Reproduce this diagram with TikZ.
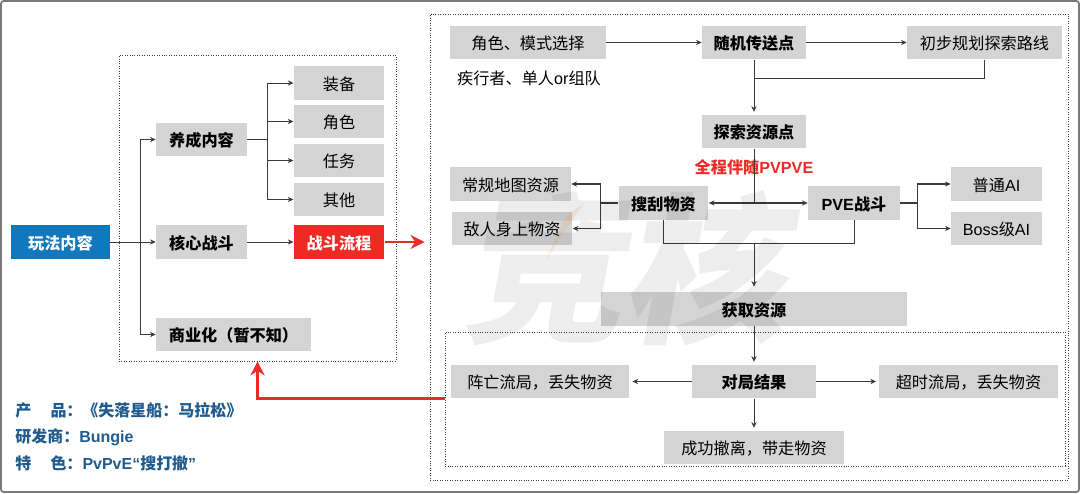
\documentclass[tikz,border=0pt]{standalone}
\usepackage{fontspec}
\setmainfont{Noto Sans CJK SC}
\newfontfamily\latin{Liberation Sans}
\usetikzlibrary{arrows.meta,positioning,calc}
\definecolor{boxgray}{HTML}{D4D4D4}
\definecolor{playblue}{HTML}{1278BD}
\definecolor{alarm}{HTML}{EE2A24}
\definecolor{infoblue}{HTML}{1F5B8E}
\definecolor{wire}{HTML}{3A3A3A}
\definecolor{framegray}{HTML}{7A7A7A}
\definecolor{streak}{HTML}{F5A650}

\begin{document}
\begin{tikzpicture}[
  x=0.02cm, y=-0.02cm,
  >={Stealth[length=3.2pt,width=3pt]},
  item/.style={fill=boxgray, minimum width=#1, minimum height=0.67cm, inner sep=0pt, text height=9pt, text depth=0.7pt, align=center, text=black, font=\fontsize{9.2}{11}\selectfont},
  step box/.style={item=#1, font=\fontsize{9.2}{11}\selectfont\bfseries},
  dotbox/.style={draw=black!75, densely dotted, line width=0.4pt},
  arr/.style={->, line width=0.55pt, color=wire},
  line/.style={line width=0.55pt, color=wire},
  alarmarr/.style={-{Stealth[length=8pt,width=8pt]}, line width=1.3pt, color=alarm},
  info/.style={anchor=west, inner sep=0pt, text=infoblue, font=\fontsize{9.1}{11}\selectfont\bfseries},
]

\useasboundingbox (0,0) rectangle (1080,494);
\draw[framegray, line width=1pt, rounded corners=1.5pt] (1,1) rectangle (1079,492);

% dotted groups
\node[dotbox, minimum width=5.54cm, minimum height=6.12cm] (playgroup) at (257.5,208) {};
\node[dotbox, minimum width=12.77cm, minimum height=9.32cm] (flowgroup) at (749.25,247) {};
\node[dotbox, minimum width=12.40cm, minimum height=2.68cm] (endgroup) at (755,399) {};

% left tree
\node[step box=1.98cm, fill=playblue, text=white] (play) at (60.5,242) {玩法内容};
\node[step box=1.82cm] (grow) at (201.5,139.5) {养成内容};
\node[step box=1.82cm] (core) at (201.5,242) {核心战斗};
\node[step box=3.10cm] (biz) at (233.5,334.5) {商业化（暂不知）};

\node[item=1.81cm] (gear) at (339,83) {装备};
\node[item=1.81cm] (hero) at (339,121.5) {角色};
\node[item=1.81cm] (quest) at (339,160.5) {任务};
\node[item=1.81cm] (other) at (339,199.5) {其他};
\node[step box=1.81cm, fill=alarm, text=white] (fight) at (339,242) {战斗流程};

\draw[arr] (play.east) -- (core.west);
\draw[arr] (play.east) -- ++(30,0) |- (grow.west);
\draw[arr] (play.east) -- ++(30,0) |- (biz.west);
\draw[arr] (grow.east) -- ++(20,0) |- (gear.west);
\draw[arr] (grow.east) -- ++(20,0) |- (hero.west);
\draw[arr] (grow.east) -- ++(20,0) |- (quest.west);
\draw[arr] (grow.east) -- ++(20,0) |- (other.west);
\draw[arr] (core.east) -- (fight.west);

% right flow
\node[item=3.12cm] (pick) at (528,42.5) {角色、模式选择};
\node[step box=2.08cm] (warp) at (754,42.5) {随机传送点};
\node[item=3.10cm] (route) at (984.5,42.5) {初步规划探索路线};
\node[inner sep=0pt, font=\fontsize{9.2}{11}\selectfont] (mode) at (529,78) {疾行者、单人{\latin or}组队};
\node[step box=2.08cm] (explore) at (754,131.5) {探索资源点};
\node[inner sep=0pt, text=alarm, font=\fontsize{9.2}{11}\selectfont\bfseries] (always) at (754,167) {全程伴随{\latin PVPVE}};

\node[item=2.42cm] (mapres) at (510.5,184) {常规地图资源};
\node[item=2.42cm] (foeres) at (512,228.5) {敌人身上物资};
\node[step box=1.80cm] (loot) at (663.5,203) {搜刮物资};
\node[step box=1.84cm] (pve) at (854,203) {{\latin PVE}战斗};
\node[item=1.82cm] (normal) at (996.5,184) {普通{\latin AI}};
\node[item=1.82cm] (boss) at (996.5,228.5) {{\latin Boss}级{\latin AI}};

\node[step box=6.12cm] (gain) at (754,309) {获取资源};
\node[step box=2.48cm] (result) at (754,381.5) {对局结果};
\node[item=3.58cm] (lost) at (540,381.5) {阵亡流局，丢失物资};
\node[item=3.58cm] (timeout) at (968.5,381.5) {超时流局，丢失物资};
\node[item=3.60cm] (escape) at (754,447.5) {成功撤离，带走物资};

\coordinate (routejoin) at (754,78.5);
\coordinate (lootjoin) at (754,243.5);

\draw[arr] (pick.east) -- (warp.west);
\draw[arr] (warp.east) -- (route.west);
\draw[arr, shorten >=1.5pt] (warp.south) -- (explore.north);
\draw[line] (route.south) |- (routejoin);
\draw[line] (explore.south) -- (explore.south |- loot.east);
\draw[arr, <->, line width=0.6pt] (loot.east) -- (pve.west);
\draw[arr, line width=0.6pt] (loot.west) -- ++(-18,0) |- (mapres.east);
\draw[arr, line width=0.6pt] (loot.west) -- ++(-18,0) |- (foeres.east);
\draw[arr, line width=0.6pt] (pve.east) -- ++(17.5,0) |- (normal.west);
\draw[arr, line width=0.6pt] (pve.east) -- ++(17.5,0) |- (boss.west);
\draw[line] (loot.south) |- (lootjoin) -| (pve.south);
\draw[arr, shorten >=3pt] (lootjoin) -- (gain.north);
\draw[arr, shorten >=1.5pt] (gain.south) -- (result.north);
\draw[arr, shorten >=1.5pt] (result.south) -- (escape.north);
\draw[arr, shorten >=1.5pt] (result.west) -- (lost.east);
\draw[arr, shorten >=1.5pt] (result.east) -- (timeout.west);

% red links
\draw[alarmarr] (fight.east) -- ++(40,0);
\draw[alarmarr] (endgroup.west |- lost.south) -| (playgroup.south);

% product notes
\node[info] (prod) at (15,410) {产\hspace{1.2em}品：《失落星船：马拉松》};
\node[info] (dev) at (15,437) {研发商：{\latin Bungie}};
\node[info] (feat) at (15,463.5) {特\hspace{1.2em}色：{\latin PvPvE“}搜打撤{\latin ”}};

% watermark
\fill[streak, opacity=0.18] (584,203) -- (566,216) -- (545,262) -- (560,238) -- cycle;
\node[inner sep=0pt, xslant=0.18, transform shape, text=black, text opacity=0.07, font=\fontsize{92}{94}\selectfont\bfseries] (mark) at (634,268) {竞核};

\end{tikzpicture}
\end{document}
